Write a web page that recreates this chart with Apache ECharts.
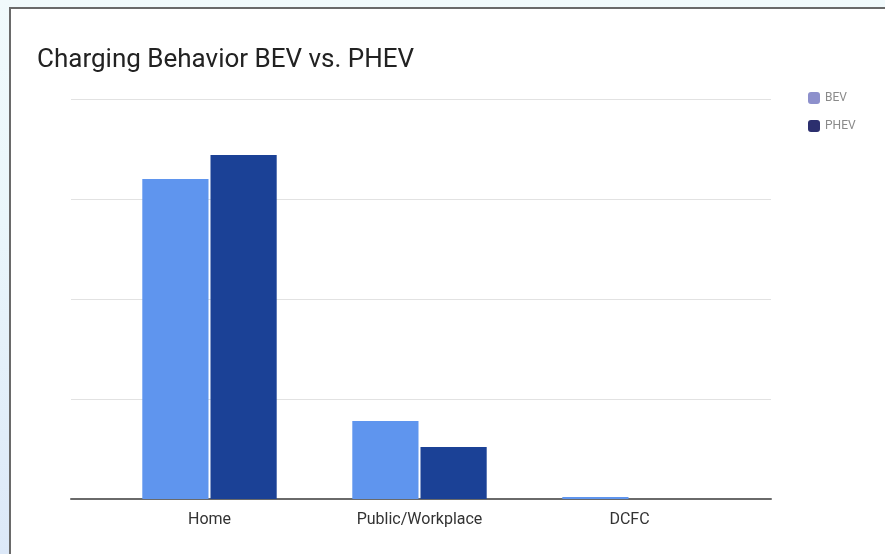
<!DOCTYPE html>
<html>
<head>
<meta charset="utf-8">
<script src="https://cdn.jsdelivr.net/npm/echarts@6/dist/echarts.min.js"></script>
<style>
html,body{margin:0;padding:0;width:885px;height:554px;overflow:hidden;}
body{background:linear-gradient(180deg,#f1fafc 0%,#eaf6fb 40%,#dce8f8 100%);position:relative;}
#frame{position:absolute;left:9px;top:7px;width:880px;height:550px;background:#fff;border-left:2px solid #6a6a6a;border-top:2px solid #6a6a6a;}
#chart{position:absolute;left:0;top:0;width:885px;height:554px;}
</style>
</head>
<body>
<div id="frame"></div>
<div id="chart"></div>
<script>
const titleText = 'Charging Behavior BEV vs. PHEV';
const categories = ['Home', 'Public/Workplace', 'DCFC'];
const seriesNames = ['BEV', 'PHEV'];
const bevValues = [80, 19.5, 0.5];
const phevValues = [86, 13, 0];
const yTicks = [0, 25, 50, 75, 100];

const chart = echarts.init(document.getElementById('chart'), null, {renderer: 'canvas'});
chart.setOption({
  backgroundColor: 'transparent',
  animation: false,
  title: {
    text: titleText,
    left: 32, top: 42,
    textStyle: {fontFamily: 'Roboto', fontSize: 26, fontWeight: 'normal', color: '#222'}
  },
  legend: {
    orient: 'vertical',
    left: 803, top: 87,
    itemWidth: 12, itemHeight: 12, itemGap: 16,
    icon: 'roundRect',
    textStyle: {fontFamily: 'Roboto', fontSize: 12, color: '#8a8a8a'},
    data: [
      {name: seriesNames[0], itemStyle: {color: '#8d90cc'}},
      {name: seriesNames[1], itemStyle: {color: '#2c2f6e'}}
    ]
  },
  grid: [
    {left: 71, right: 114, top: 99, bottom: 55},
    {left: 104.5, right: 150.5, top: 99, bottom: 55}
  ],
  xAxis: [
    {gridIndex: 0, type: 'value', min: 0, max: 1,
     axisLine: {show: true, lineStyle: {color: '#6a6a6a', width: 2}},
     axisTick: {show: false}, axisLabel: {show: false}, splitLine: {show: false}},
    {gridIndex: 1, type: 'category', data: categories,
     axisLine: {show: false}, axisTick: {show: false},
     axisLabel: {margin: 13, fontFamily: 'Roboto', fontSize: 16, color: '#333'}}
  ],
  yAxis: [
    {gridIndex: 0, type: 'value', min: yTicks[0], max: yTicks[yTicks.length-1], interval: yTicks[1]-yTicks[0],
     axisLine: {show: false}, axisTick: {show: false}, axisLabel: {show: false},
     splitLine: {lineStyle: {color: '#e2e2e2', width: 1}}},
    {gridIndex: 1, type: 'value', min: yTicks[0], max: yTicks[yTicks.length-1], show: false}
  ],
  series: [
    {name: seriesNames[0], type: 'bar', xAxisIndex: 1, yAxisIndex: 1, data: bevValues,
     barGap: '3%', barCategoryGap: '36%', itemStyle: {color: '#5f95ee'}},
    {name: seriesNames[1], type: 'bar', xAxisIndex: 1, yAxisIndex: 1, data: phevValues,
     itemStyle: {color: '#1b4196'}}
  ]
});
</script>
</body>
</html>
